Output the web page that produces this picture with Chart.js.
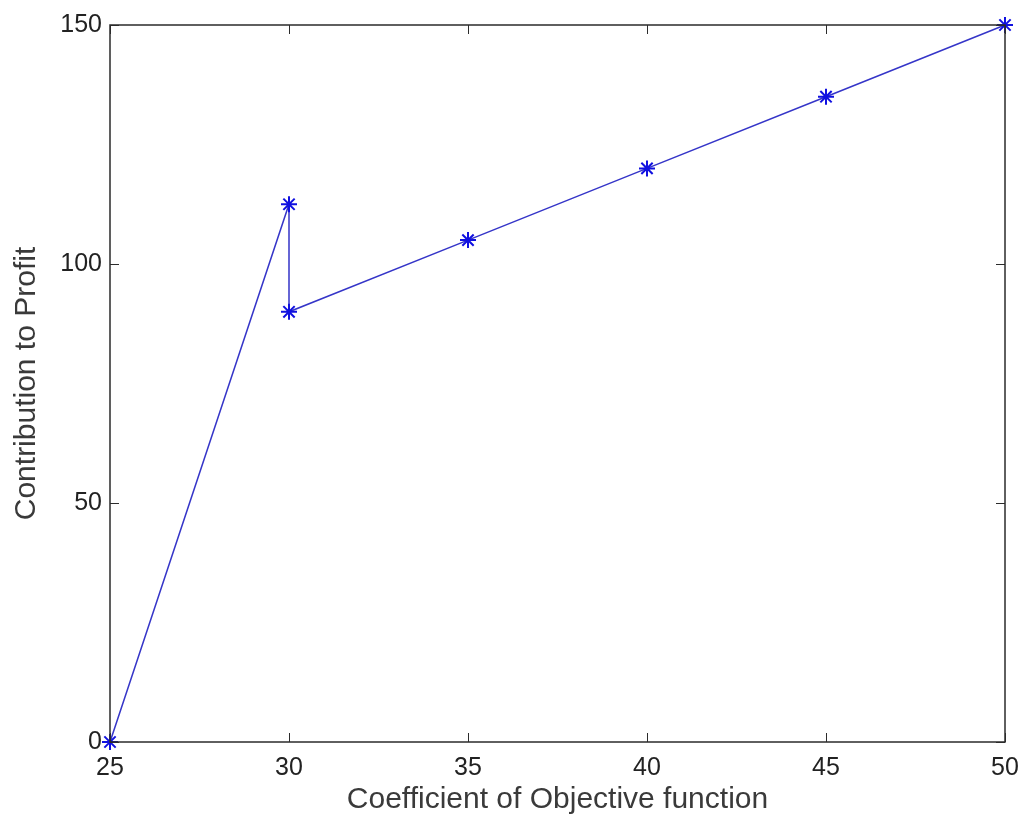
<!DOCTYPE html>
<html>
<head>
<meta charset="utf-8">
<script src="https://cdn.jsdelivr.net/npm/chart.js@4"></script>
<style>
  html, body { margin: 0; padding: 0; background: #fff; }
  #wrap { width: 1023px; height: 822px; }
</style>
</head>
<body>
<div id="wrap"><canvas id="profit" width="1023" height="822"></canvas></div>
<script>
var coeffs = [25, 30, 30, 35, 40, 45, 50];
var profit = [0, 112.5, 90, 105, 120, 135, 150];
var xTicks = [25, 30, 35, 40, 45, 50];
var yTicks = [0, 50, 100, 150];

var points = coeffs.map(function(c, i) { return { x: c, y: profit[i] }; });

// matlab style box with inward ticks
var boxTicks = {
    id: 'boxTicks',
    afterDraw: function(chart) {
        var ctx = chart.ctx, a = chart.chartArea;
        var xs = chart.scales.x, ys = chart.scales.y;
        var len = 9;
        ctx.save();
        ctx.strokeStyle = '#2b2b2b';
        ctx.lineWidth = 1.5;
        ctx.strokeRect(a.left, a.top, a.right - a.left, a.bottom - a.top);
        ctx.lineWidth = 1;
        ctx.beginPath();
        xTicks.forEach(function(v) {
            var px = Math.round(xs.getPixelForValue(v)) + 0.5;
            ctx.moveTo(px, a.bottom); ctx.lineTo(px, a.bottom - len);
            ctx.moveTo(px, a.top); ctx.lineTo(px, a.top + len);
        });
        yTicks.forEach(function(v) {
            var py = Math.round(ys.getPixelForValue(v)) + 0.5;
            ctx.moveTo(a.left, py); ctx.lineTo(a.left + len, py);
            ctx.moveTo(a.right, py); ctx.lineTo(a.right - len, py);
        });
        ctx.stroke();
        ctx.restore();
    }
};

var ctx = document.getElementById('profit').getContext('2d');
var myChart = new Chart(ctx, {
    type: 'scatter',
    data: {
        datasets: [{
            label: 'Contribution to Profit',
            data: points,
            showLine: true,
            borderColor: '#3535c8',
            borderWidth: 1.5,
            pointStyle: 'star',
            pointRadius: 8,
            pointBorderWidth: 2,
            pointBorderColor: '#1010e0',
            pointBackgroundColor: '#1010e0',
            clip: false
        }]
    },
    options: {
        responsive: false,
        animation: false,
        layout: { padding: { top: 25, right: 18, left: 0, bottom: 0 } },
        plugins: {
            legend: { display: false },
            tooltip: { enabled: false }
        },
        scales: {
            x: {
                type: 'linear',
                min: 25,
                max: 50,
                afterBuildTicks: function(s) { s.ticks = xTicks.map(function(v) { return { value: v }; }); },
                afterFit: function(s) { s.height = 80; s.paddingLeft = 0; s.paddingRight = 0; },
                grid: { display: false, drawTicks: false },
                border: { display: false },
                ticks: {
                    color: '#222',
                    padding: 11,
                    maxRotation: 0,
                    font: { family: 'Liberation Sans, Arial, sans-serif', size: 25 }
                },
                title: {
                    display: true,
                    text: 'Coefficient of Objective function',
                    color: '#3a3a3a',
                    padding: { top: 0, bottom: 4 },
                    font: { family: 'Liberation Sans, Arial, sans-serif', size: 30 }
                }
            },
            y: {
                min: 0,
                max: 150,
                afterBuildTicks: function(s) { s.ticks = yTicks.map(function(v) { return { value: v }; }); },
                afterFit: function(s) { s.width = 110; s.paddingTop = 0; s.paddingBottom = 0; },
                grid: { display: false, drawTicks: false },
                border: { display: false },
                ticks: {
                    color: '#222',
                    padding: 8,
                    font: { family: 'Liberation Sans, Arial, sans-serif', size: 25 }
                },
                title: {
                    display: true,
                    text: 'Contribution to Profit',
                    color: '#3a3a3a',
                    padding: { top: 9, bottom: 0 },
                    font: { family: 'Liberation Sans, Arial, sans-serif', size: 30 }
                }
            }
        }
    },
    plugins: [boxTicks]
});
</script>
</body>
</html>
